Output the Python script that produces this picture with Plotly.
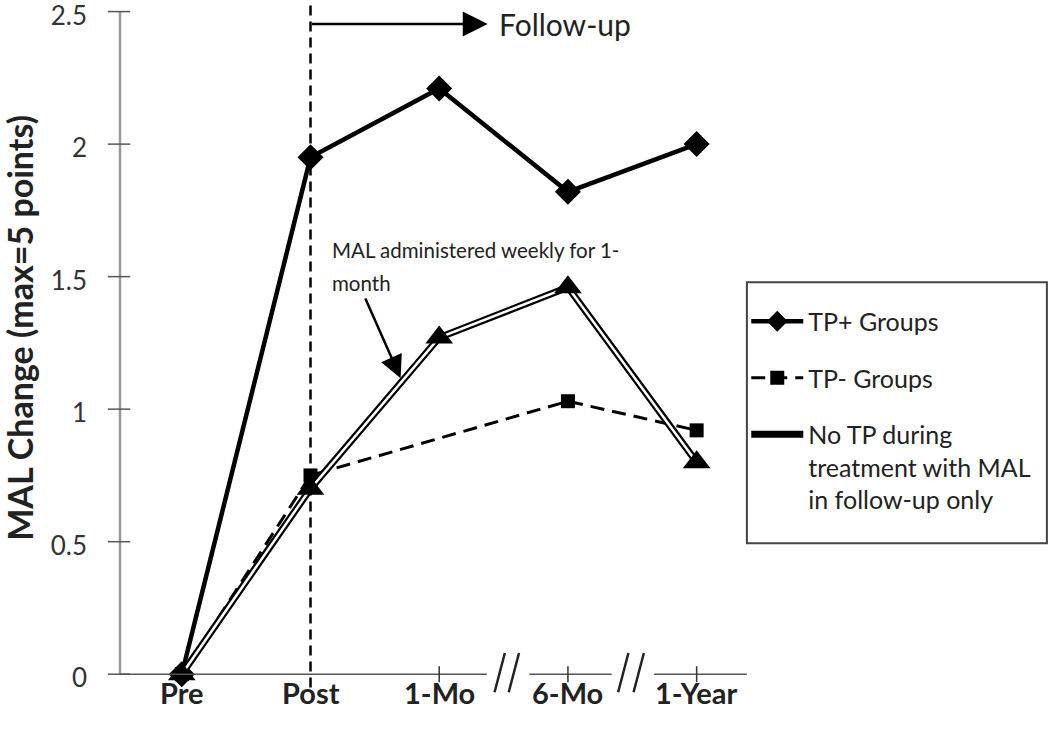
import plotly.graph_objects as go

# timepoints and group means (MAL change)
timepoints = ["Pre", "Post", "1-Mo", "6-Mo", "1-Year"]
tp_plus = [0, 1.95, 2.21, 1.82, 2.0]
tp_minus = [0, 0.75, None, 1.03, 0.92]
no_tp = [0, 0.70, 1.27, 1.46, 0.80]
y_ticks = [0, 0.5, 1, 1.5, 2, 2.5]
y_ticktext = ["0", "0.5", "1", "1.5", "2", "2.5"]

FONT = "Lato"
xs = list(range(len(timepoints)))

fig = go.Figure()

fig.add_trace(go.Scatter(
    x=xs, y=tp_plus, name="TP+ Groups", mode="lines+markers",
    line=dict(color="black", width=4.5),
    marker=dict(symbol="diamond", size=20, color="black"),
    legendgroup="a", cliponaxis=False))
fig.add_trace(go.Scatter(
    x=xs, y=tp_minus, name="TP- Groups", mode="lines+markers", connectgaps=True,
    line=dict(color="black", width=3, dash="14px,8px"),
    marker=dict(symbol="square", size=14, color="black"),
    legendgroup="b", cliponaxis=False))
# double line: thick black with a thin white line on top
fig.add_trace(go.Scatter(
    x=xs, y=no_tp, name="No TP during<br>treatment with MAL<br>in follow-up only",
    mode="lines", line=dict(color="black", width=7),
    legendgroup="c", cliponaxis=False))
fig.add_trace(go.Scatter(
    x=xs, y=no_tp, mode="lines+markers", showlegend=False,
    line=dict(color="white", width=2.5),
    marker=dict(symbol="triangle-up", size=24, color="black"),
    legendgroup="c", cliponaxis=False))

shapes = []
# y axis line and ticks
shapes.append(dict(type="line", xref="paper", yref="y", x0=0, x1=0, y0=0, y1=2.5,
                   line=dict(color="#9a9a9a", width=2.5)))
for v in y_ticks:
    shapes.append(dict(type="line", xref="paper", yref="y", x0=-0.019, x1=0.016, y0=v, y1=v,
                       line=dict(color="#555", width=1.5)))
# broken x axis
for a, b in [(-0.48, 2.37), (2.70, 3.34), (3.67, 4.39)]:
    shapes.append(dict(type="line", xref="x", yref="y", x0=a, x1=b, y0=0, y1=0,
                       line=dict(color="#555", width=1.5)))
for sx in [2.43, 2.54, 3.39, 3.51]:
    shapes.append(dict(type="line", xref="x", yref="y", x0=sx, x1=sx + 0.08, y0=-0.068, y1=0.08,
                       line=dict(color="#222", width=2.5)))
for t in xs[2:]:
    shapes.append(dict(type="line", xref="x", yref="y", x0=t, x1=t, y0=-0.03, y1=0.03,
                       line=dict(color="#333", width=1.5)))
# follow-up divider
shapes.append(dict(type="line", xref="x", yref="y", x0=1, x1=1, y0=-0.05, y1=2.54,
                   line=dict(color="black", width=2.5, dash="10px,6px")))
# legend box
shapes.append(dict(type="rect", xref="paper", yref="paper", x0=0.978, x1=1.446, y0=0.231, y1=0.601,
                   line=dict(color="#444", width=2), fillcolor="rgba(0,0,0,0)"))
fig.update_layout(shapes=shapes)

annotations = []
for i, lab in enumerate(timepoints):
    annotations.append(dict(x=i, y=0, xref="x", yref="y", text="<b>%s</b>" % lab, showarrow=False,
                            yshift=-18, yanchor="middle", font=dict(family=FONT, size=29, color="#222")))
annotations.append(dict(x=-0.156, y=1.307, xref="paper", yref="y", text="<b>MAL Change (max=5 points)</b>",
                        textangle=-90, showarrow=False, xanchor="center", yanchor="middle",
                        font=dict(family=FONT, size=34, color="#222")))
annotations.append(dict(x=2.377, y=2.453, ax=1, ay=2.453, xref="x", yref="y", axref="x", ayref="y",
                        text="", showarrow=True, arrowhead=2, arrowsize=2, arrowwidth=2.5, arrowcolor="black"))
annotations.append(dict(x=2.447, y=2.453, xref="x", yref="y", text="Follow-up", xanchor="left",
                        showarrow=False, font=dict(family=FONT, size=30, color="#222")))
annotations.append(dict(x=1.70, y=1.117, ax=1.421, ay=1.423, xref="x", yref="y", axref="x", ayref="y",
                        text="", showarrow=True, arrowhead=2, arrowsize=1.8, arrowwidth=2.5, arrowcolor="black"))
for txt, yy in [("MAL administered weekly for 1-", 1.60), ("month", 1.475)]:
    annotations.append(dict(x=1.149, y=yy, xref="x", yref="y", text=txt, align="left",
                            xanchor="left", yanchor="middle", showarrow=False,
                            font=dict(family=FONT, size=20.5, color="#222")))
fig.update_layout(annotations=annotations)

fig.update_layout(
    width=1050, height=729,
    margin=dict(l=120, r=289, t=1, b=23),
    plot_bgcolor="white", paper_bgcolor="white",
    showlegend=True,
    legend=dict(x=0.977, y=0.578, xanchor="left", yanchor="top",
                font=dict(family=FONT, size=25, color="#222"), itemwidth=52,
                tracegroupgap=21, valign="top", bgcolor="rgba(0,0,0,0)"),
    xaxis=dict(range=[-0.48, 4.5], showgrid=False, zeroline=False, showline=False,
               showticklabels=False, ticks="", automargin=False),
    yaxis=dict(range=[-0.12, 2.54], tickvals=y_ticks, ticktext=y_ticktext, showgrid=False,
               zeroline=False, showline=False, ticks="", ticklabelstandoff=32, automargin=False,
               ticklabeloverflow="allow", ticklabelshift=4,
               tickfont=dict(family=FONT, size=26, color="#333")),
)

# the page has a default 8px body margin; drop it so the figure sits at the window corner
fig.write_html("out.html", config={"displayModeBar": False},
               post_script="document.body.style.margin='0px';")
